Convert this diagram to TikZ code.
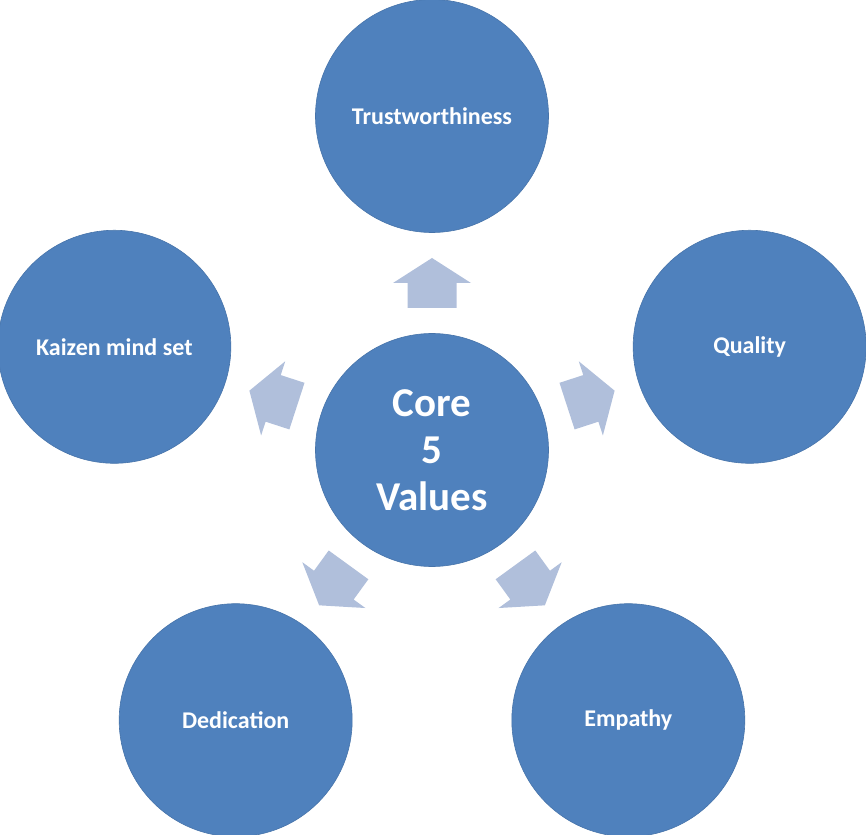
\documentclass[tikz,border=0pt]{standalone}
\usepackage{fontspec}
\setmainfont{Carlito}
\definecolor{circblue}{HTML}{4F81BD}
\definecolor{arrowblue}{HTML}{B0BFDB}

\begin{document}
\begin{tikzpicture}
	[x=1pt,y=1pt,every node/.style={circle, fill=circblue, draw=circblue!90!black, line width=.6pt, minimum size=233pt, inner sep=0pt, text=white, font=\fontsize{24}{28}\selectfont\bfseries}]
	\useasboundingbox (-432,-384) rectangle (434,450);
	\node[align=center, font=\fontsize{41}{47}\selectfont\bfseries] (core) at (0,0) {Core\\5\\Values};
	\node (trust) at (90:334) {Trustworthiness};
	\node (qual) at (18:334) {Quality};
	\node (emp) at (-54:334) {Empathy};
	\node (ded) at (-126:334) {Dedication};
	\node (kaizen) at (162:334) {Kaizen mind set};
	
	\foreach \ang in {90,18,-54,-126,162}
		\fill[arrowblue, rotate=\ang] (142,-24.5) -- (167,-24.5) -- (167,-39) -- (192,0) -- (167,39) -- (167,24.5) -- (142,24.5) -- cycle;
	\end{tikzpicture}
\end{document}
